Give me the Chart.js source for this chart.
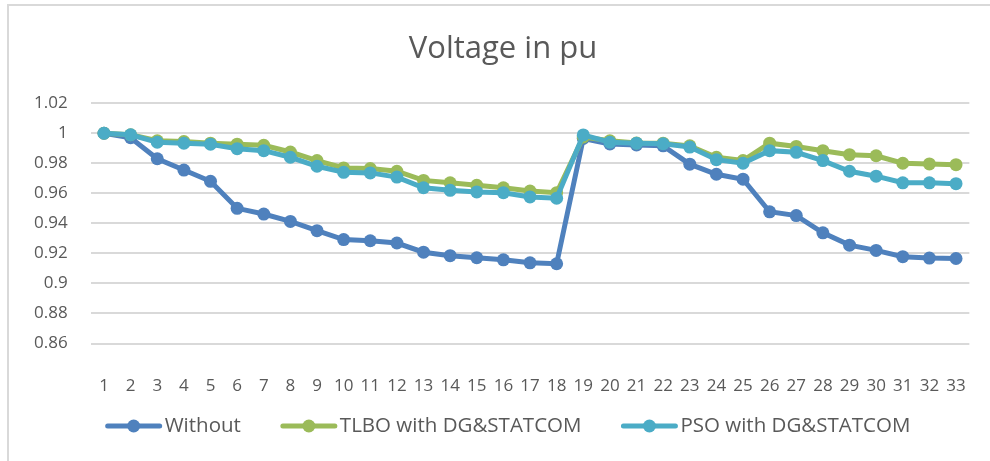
<!DOCTYPE html>
<html>
<head>
<meta charset="utf-8">
<script src="https://cdn.jsdelivr.net/npm/chart.js@4.4.1/dist/chart.umd.min.js"></script>
<style>
  html, body { margin: 0; padding: 0; background: #fff; }
  #wrap { position: relative; width: 990px; height: 461px; overflow: hidden; }
  #frame { position: absolute; left: 7px; top: 4px; width: 1000px; height: 500px; border: 2px solid #d9d9d9; }
  canvas { position: absolute; left: 0; top: 0; }
</style>
</head>
<body>
<div id="wrap">
  <div id="frame"></div>
  <canvas id="chart" width="990" height="461"></canvas>
</div>
<script>
// Bus numbers 1..33
const buses = ['1','2','3','4','5','6','7','8','9','10','11','12','13','14','15','16','17',
  '18','19','20','21','22','23','24','25','26','27','28','29','30','31','32','33'];

// Voltage (pu) per bus
const withoutVals = [1.000, 0.997, 0.983, 0.9755, 0.968, 0.950, 0.9462, 0.9413, 0.9351, 0.9292, 0.9284,
  0.9269, 0.9208, 0.9185, 0.9171, 0.9157, 0.9137, 0.9131, 0.9965, 0.9929, 0.9922, 0.9916,
  0.9794, 0.9727, 0.9694, 0.9477, 0.9452, 0.9337, 0.9255, 0.9220, 0.9178, 0.9169, 0.9166];
const tlboVals = [1.000, 0.999, 0.995, 0.9945, 0.9934, 0.9927, 0.992, 0.9875, 0.9818, 0.9769, 0.9765,
  0.9747, 0.9686, 0.967, 0.9653, 0.9637, 0.9615, 0.9604, 0.9975, 0.995, 0.9935, 0.9934,
  0.9916, 0.984, 0.9818, 0.9934, 0.9912, 0.9884, 0.9857, 0.985, 0.980, 0.9796, 0.9791];
const psoVals = [1.000, 0.999, 0.994, 0.9934, 0.9927, 0.9897, 0.9884, 0.984, 0.978, 0.974, 0.9736,
  0.9708, 0.9637, 0.962, 0.9609, 0.9604, 0.9576, 0.9567, 0.9989, 0.994, 0.9934, 0.993,
  0.9908, 0.9824, 0.980, 0.9884, 0.9873, 0.9818, 0.9747, 0.9714, 0.967, 0.967, 0.9664];

const yTicks = [0.86, 0.88, 0.9, 0.92, 0.94, 0.96, 0.98, 1, 1.02];
const seriesNames = ['Without', 'TLBO with DG&STATCOM', 'PSO with DG&STATCOM'];
const seriesColors = ['#4F81BD', '#9BBB59', '#4BACC6'];

const textColor = '#595959';
const fontFamily = "'Open Sans', sans-serif";

function lineSet(i, data, order) {
  return {
    label: seriesNames[i],
    data: data,
    borderColor: seriesColors[i],
    backgroundColor: seriesColors[i],
    borderWidth: 5,
    pointRadius: 6.5,
    pointBorderWidth: 0,
    pointBackgroundColor: seriesColors[i],
    tension: 0,
    order: order
  };
}

// Excel-style legend: line + marker, then the label
const lineLegend = {
  id: 'lineLegend',
  afterDraw(chart) {
    const c = chart.ctx;
    const sym = 56, gap = 40, y = 426;
    c.save();
    c.font = `20.5px ${fontFamily}`;
    const widths = seriesNames.map(n => c.measureText(n).width);
    const total = widths.reduce((a, b) => a + b, 0) + seriesNames.length * (sym + 3) + gap * (seriesNames.length - 1);
    let x = 508 - total / 2;
    seriesNames.forEach((name, i) => {
      c.strokeStyle = seriesColors[i];
      c.lineWidth = 5;
      c.lineCap = 'round';
      c.beginPath();
      c.moveTo(x + 2, y);
      c.lineTo(x + sym - 2, y);
      c.stroke();
      c.fillStyle = seriesColors[i];
      c.beginPath();
      c.arc(x + sym / 2, y, 6.5, 0, Math.PI * 2);
      c.fill();
      c.fillStyle = textColor;
      c.textBaseline = 'middle';
      c.textAlign = 'left';
      c.fillText(name, x + sym + 3, y);
      x += sym + 3 + widths[i] + gap;
    });
    c.restore();
  }
};

new Chart(document.getElementById('chart'), {
  type: 'line',
  data: {
    labels: buses,
    datasets: [
      lineSet(0, withoutVals, 3),
      lineSet(1, tlboVals, 2),
      lineSet(2, psoVals, 1)
    ]
  },
  options: {
    responsive: false,
    animation: false,
    layout: { padding: { left: 33, right: 17, top: 13, bottom: 57.5 } },
    plugins: {
      legend: { display: false },
      tooltip: { enabled: false },
      title: {
        display: true,
        text: 'Voltage in pu',
        color: textColor,
        font: { family: fontFamily, size: 31, weight: 'normal' },
        padding: { top: 18, bottom: 35 }
      }
    },
    scales: {
      x: {
        offset: true,
        grid: { display: false },
        border: { display: false },
        ticks: {
          color: textColor,
          font: { family: fontFamily, size: 17 },
          autoSkip: false,
          maxRotation: 0,
          padding: 24
        },
        afterFit(scale) { scale.height = 60; }
      },
      y: {
        min: 0.86,
        max: 1.02,
        grid: { color: '#d9d9d9', lineWidth: 2, drawTicks: false },
        border: { display: false },
        afterBuildTicks(scale) { scale.ticks = yTicks.map(v => ({ value: v })); },
        ticks: {
          color: textColor,
          font: { family: fontFamily, size: 17 },
          padding: 23,
          callback: v => String(Number(v.toFixed(2)))
        },
        afterFit(scale) { scale.width = 57.7; }
      }
    }
  },
  plugins: [lineLegend]
});
</script>
</body>
</html>
